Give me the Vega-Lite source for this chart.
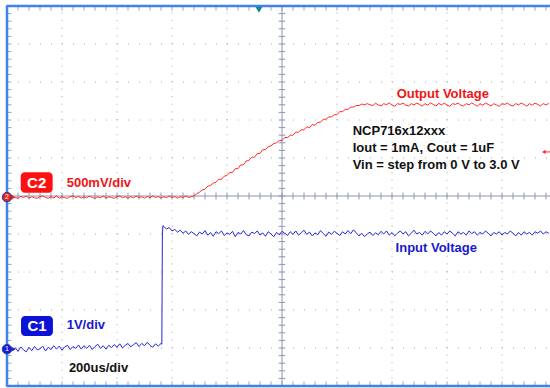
{
"$schema": "https://vega.github.io/schema/vega-lite/v6.json",
"width": 543, "height": 380,
"padding": {"left": 7, "top": 6, "right": 0, "bottom": 2},
"autosize": {"type": "none"},
"background": "white",
"config": {"view": {"stroke": null}, "text": {"font": "Liberation Sans", "fontWeight": "bold", "fontSize": 13}},
"datasets": {
"gx": [{"t":200},{"t":400},{"t":600},{"t":800},{"t":1200},{"t":1400},{"t":1600},{"t":1800}],
"gy": [{"d":1},{"d":2},{"d":3},{"d":4},{"d":6},{"d":7},{"d":8},{"d":9}],
"tx": [{"t":0},{"t":40},{"t":80},{"t":120},{"t":160},{"t":200},{"t":240},{"t":280},{"t":320},{"t":360},{"t":400},{"t":440},{"t":480},{"t":520},{"t":560},{"t":600},{"t":640},{"t":680},{"t":720},{"t":760},{"t":800},{"t":840},{"t":880},{"t":920},{"t":960},{"t":1000},{"t":1040},{"t":1080},{"t":1120},{"t":1160},{"t":1200},{"t":1240},{"t":1280},{"t":1320},{"t":1360},{"t":1400},{"t":1440},{"t":1480},{"t":1520},{"t":1560},{"t":1600},{"t":1640},{"t":1680},{"t":1720},{"t":1760},{"t":1800},{"t":1840},{"t":1880},{"t":1920},{"t":1960}],
"ty": [{"d":0},{"d":0.2},{"d":0.4},{"d":0.6},{"d":0.8},{"d":1},{"d":1.2},{"d":1.4},{"d":1.6},{"d":1.8},{"d":2},{"d":2.2},{"d":2.4},{"d":2.6},{"d":2.8},{"d":3},{"d":3.2},{"d":3.4},{"d":3.6},{"d":3.8},{"d":4},{"d":4.2},{"d":4.4},{"d":4.6},{"d":4.8},{"d":5},{"d":5.2},{"d":5.4},{"d":5.6},{"d":5.8},{"d":6},{"d":6.2},{"d":6.4},{"d":6.6},{"d":6.8},{"d":7},{"d":7.2},{"d":7.4},{"d":7.6},{"d":7.8},{"d":8},{"d":8.2},{"d":8.4},{"d":8.6},{"d":8.8},{"d":9},{"d":9.2},{"d":9.4},{"d":9.6},{"d":9.8},{"d":10}],
"c2": [{"t":0,"v":-0.01},{"t":10,"v":-0.025},{"t":20,"v":0.0},{"t":30,"v":-0.02},{"t":40,"v":-0.03},{"t":50,"v":-0.005},{"t":60,"v":-0.02},{"t":70,"v":0.0},{"t":80,"v":-0.028},{"t":90,"v":-0.01},{"t":100,"v":-0.022},{"t":110,"v":-0.03},{"t":120,"v":-0.008},{"t":130,"v":0.002},{"t":140,"v":-0.02},{"t":150,"v":-0.03},{"t":160,"v":-0.01},{"t":170,"v":-0.024},{"t":180,"v":0.0},{"t":190,"v":-0.028},{"t":200,"v":-0.012},{"t":210,"v":-0.022},{"t":220,"v":-0.03},{"t":230,"v":-0.008},{"t":240,"v":0.002},{"t":250,"v":-0.02},{"t":260,"v":-0.006},{"t":270,"v":-0.028},{"t":280,"v":-0.012},{"t":290,"v":-0.022},{"t":300,"v":0.0},{"t":310,"v":-0.02},{"t":320,"v":-0.03},{"t":330,"v":-0.01},{"t":340,"v":-0.024},{"t":350,"v":-0.002},{"t":360,"v":-0.028},{"t":370,"v":-0.01},{"t":380,"v":-0.02},{"t":390,"v":-0.03},{"t":400,"v":-0.008},{"t":410,"v":0.002},{"t":420,"v":-0.022},{"t":430,"v":-0.01},{"t":440,"v":-0.03},{"t":450,"v":-0.008},{"t":460,"v":-0.022},{"t":470,"v":0.0},{"t":480,"v":-0.02},{"t":490,"v":-0.01},{"t":500,"v":-0.03},{"t":510,"v":-0.006},{"t":520,"v":-0.022},{"t":530,"v":0.002},{"t":540,"v":-0.02},{"t":550,"v":-0.008},{"t":560,"v":-0.028},{"t":570,"v":-0.01},{"t":580,"v":-0.022},{"t":590,"v":0.0},{"t":600,"v":-0.02},{"t":610,"v":-0.008},{"t":620,"v":-0.028},{"t":630,"v":-0.01},{"t":640,"v":-0.02},{"t":650,"v":0.0},{"t":660,"v":-0.02},{"t":670,"v":-0.008},
{"t":680,"v":0.0},{"t":690,"v":0.03},{"t":700,"v":0.05},{"t":710,"v":0.08},{"t":720,"v":0.09},{"t":730,"v":0.13},{"t":740,"v":0.14},{"t":750,"v":0.17},{"t":760,"v":0.18},{"t":770,"v":0.22},{"t":780,"v":0.22},{"t":790,"v":0.26},{"t":800,"v":0.27},{"t":810,"v":0.31},{"t":820,"v":0.31},{"t":830,"v":0.36},{"t":840,"v":0.36},{"t":850,"v":0.41},{"t":860,"v":0.41},{"t":870,"v":0.46},{"t":880,"v":0.47},{"t":890,"v":0.51},{"t":900,"v":0.51},{"t":910,"v":0.56},{"t":920,"v":0.56},{"t":930,"v":0.61},{"t":940,"v":0.61},{"t":950,"v":0.65},{"t":960,"v":0.66},{"t":970,"v":0.69},{"t":980,"v":0.7},{"t":990,"v":0.73},{"t":1000,"v":0.73},{"t":1010,"v":0.77},{"t":1020,"v":0.77},{"t":1030,"v":0.8},{"t":1040,"v":0.8},{"t":1050,"v":0.84},{"t":1060,"v":0.84},{"t":1070,"v":0.87},{"t":1080,"v":0.87},{"t":1090,"v":0.91},{"t":1100,"v":0.9},{"t":1110,"v":0.94},{"t":1120,"v":0.93},{"t":1130,"v":0.97},{"t":1140,"v":0.97},{"t":1150,"v":1.01},{"t":1160,"v":1.01},{"t":1170,"v":1.04},{"t":1180,"v":1.04},{"t":1190,"v":1.07},{"t":1200,"v":1.07},{"t":1210,"v":1.11},{"t":1220,"v":1.11},{"t":1230,"v":1.14},{"t":1240,"v":1.14},{"t":1250,"v":1.17},{"t":1260,"v":1.17},{"t":1270,"v":1.19},{"t":1280,"v":1.19},{"t":1290,"v":1.21},{"t":1300,"v":1.2},{"t":1310,"v":1.215},{"t":1320,"v":1.2},
{"t":1330,"v":1.19},{"t":1340,"v":1.22},{"t":1350,"v":1.2},{"t":1360,"v":1.185},{"t":1370,"v":1.215},{"t":1380,"v":1.2},{"t":1390,"v":1.225},{"t":1400,"v":1.195},{"t":1410,"v":1.18},{"t":1420,"v":1.215},{"t":1430,"v":1.205},{"t":1440,"v":1.222},{"t":1450,"v":1.195},{"t":1460,"v":1.185},{"t":1470,"v":1.215},{"t":1480,"v":1.198},{"t":1490,"v":1.222},{"t":1500,"v":1.205},{"t":1510,"v":1.182},{"t":1520,"v":1.215},{"t":1530,"v":1.195},{"t":1540,"v":1.225},{"t":1550,"v":1.205},{"t":1560,"v":1.185},{"t":1570,"v":1.218},{"t":1580,"v":1.198},{"t":1590,"v":1.222},{"t":1600,"v":1.195},{"t":1610,"v":1.18},{"t":1620,"v":1.215},{"t":1630,"v":1.205},{"t":1640,"v":1.222},{"t":1650,"v":1.195},{"t":1660,"v":1.185},{"t":1670,"v":1.215},{"t":1680,"v":1.2},{"t":1690,"v":1.225},{"t":1700,"v":1.205},{"t":1710,"v":1.182},{"t":1720,"v":1.215},{"t":1730,"v":1.195},{"t":1740,"v":1.222},{"t":1750,"v":1.205},{"t":1760,"v":1.185},{"t":1770,"v":1.215},{"t":1780,"v":1.198},{"t":1790,"v":1.18},{"t":1800,"v":1.215},{"t":1810,"v":1.205},{"t":1820,"v":1.222},{"t":1830,"v":1.195},{"t":1840,"v":1.185},{"t":1850,"v":1.215},{"t":1860,"v":1.2},{"t":1870,"v":1.222},{"t":1880,"v":1.205},{"t":1890,"v":1.182},{"t":1900,"v":1.215},{"t":1910,"v":1.195},{"t":1920,"v":1.222},{"t":1930,"v":1.205},{"t":1940,"v":1.185},{"t":1950,"v":1.215},{"t":1960,"v":1.198},{"t":1970,"v":1.218}],
"c1": [{"t":0,"v":-0.03},{"t":10,"v":0.04},{"t":20,"v":-0.07},{"t":30,"v":0.01},{"t":40,"v":-0.09},{"t":50,"v":0.03},{"t":60,"v":-0.05},{"t":70,"v":-0.1},{"t":80,"v":0.02},{"t":90,"v":-0.07},{"t":100,"v":0.04},{"t":110,"v":-0.05},{"t":120,"v":-0.02},{"t":130,"v":0.05},{"t":140,"v":-0.08},{"t":150,"v":0.02},{"t":160,"v":-0.04},{"t":170,"v":0.06},{"t":180,"v":-0.03},{"t":190,"v":0.05},{"t":200,"v":-0.06},{"t":210,"v":0.03},{"t":220,"v":0.07},{"t":230,"v":-0.04},{"t":240,"v":0.04},{"t":250,"v":-0.01},{"t":260,"v":0.08},{"t":270,"v":-0.03},{"t":280,"v":0.06},{"t":290,"v":-0.01},{"t":300,"v":0.07},{"t":310,"v":-0.04},{"t":320,"v":0.04},{"t":330,"v":0.1},{"t":340,"v":-0.01},{"t":350,"v":0.06},{"t":360,"v":-0.03},{"t":370,"v":0.07},{"t":380,"v":0.01},{"t":390,"v":0.09},{"t":400,"v":0.02},{"t":410,"v":0.11},{"t":420,"v":0.0},{"t":430,"v":0.07},{"t":440,"v":0.12},{"t":450,"v":0.03},{"t":460,"v":0.09},{"t":470,"v":0.14},{"t":480,"v":0.04},{"t":490,"v":0.12},{"t":500,"v":0.06},{"t":510,"v":0.15},{"t":520,"v":0.07},{"t":530,"v":0.02},{"t":540,"v":0.11},{"t":550,"v":0.05},{"t":560,"v":0.12},{"t":563,"v":0.1},{"t":565,"v":3.0},{"t":567,"v":3.22},
{"t":570,"v":3.2},{"t":580,"v":3.13},{"t":590,"v":3.17},{"t":600,"v":3.08},{"t":610,"v":3.12},{"t":620,"v":3.05},{"t":630,"v":3.1},{"t":640,"v":3.02},{"t":650,"v":3.08},{"t":660,"v":2.99},{"t":670,"v":3.06},{"t":680,"v":3.01},{"t":690,"v":2.95},{"t":700,"v":3.05},{"t":710,"v":3.0},{"t":720,"v":3.09},{"t":730,"v":2.97},{"t":740,"v":3.04},{"t":750,"v":2.94},{"t":760,"v":3.06},{"t":770,"v":3.01},{"t":780,"v":3.08},{"t":790,"v":2.96},{"t":800,"v":3.03},{"t":810,"v":2.99},{"t":820,"v":3.07},{"t":830,"v":2.93},{"t":840,"v":3.04},{"t":850,"v":3.0},{"t":860,"v":3.09},{"t":870,"v":2.98},{"t":880,"v":2.95},{"t":890,"v":3.05},{"t":900,"v":3.01},{"t":910,"v":3.08},{"t":920,"v":2.97},{"t":930,"v":3.03},{"t":940,"v":2.94},{"t":950,"v":3.06},{"t":960,"v":3.0},{"t":970,"v":2.93},{"t":980,"v":3.04},{"t":990,"v":2.98},{"t":1000,"v":3.07},{"t":1010,"v":3.02},{"t":1020,"v":2.96},{"t":1030,"v":3.06},{"t":1040,"v":2.99},{"t":1050,"v":3.08},{"t":1060,"v":2.97},{"t":1070,"v":3.03},{"t":1080,"v":3.1},{"t":1090,"v":2.99},{"t":1100,"v":3.05},{"t":1110,"v":2.95},{"t":1120,"v":3.03},{"t":1130,"v":2.98},{"t":1140,"v":3.09},{"t":1150,"v":3.01},{"t":1160,"v":2.94},{"t":1170,"v":3.05},{"t":1180,"v":2.99},{"t":1190,"v":3.07},{"t":1200,"v":3.02},{"t":1210,"v":2.96},{"t":1220,"v":3.06},{"t":1230,"v":3.0},{"t":1240,"v":3.09},{"t":1250,"v":3.01},{"t":1260,"v":3.11},{"t":1270,"v":3.03},{"t":1280,"v":2.95},{"t":1290,"v":3.02},{"t":1300,"v":2.93},{"t":1310,"v":3.0},{"t":1320,"v":3.05},{"t":1330,"v":2.96},{"t":1340,"v":3.03},{"t":1350,"v":2.98},{"t":1360,"v":3.07},{"t":1370,"v":3.0},{"t":1380,"v":3.08},{"t":1390,"v":2.97},{"t":1400,"v":3.04},{"t":1410,"v":2.95},{"t":1420,"v":3.02},{"t":1430,"v":3.08},{"t":1440,"v":3.0},{"t":1450,"v":3.06},{"t":1460,"v":2.95},{"t":1470,"v":3.02},{"t":1480,"v":3.1},{"t":1490,"v":3.0},{"t":1500,"v":3.04},{"t":1510,"v":2.97},{"t":1520,"v":3.07},{"t":1530,"v":3.0},{"t":1540,"v":3.08},{"t":1550,"v":3.02},{"t":1560,"v":2.95},{"t":1570,"v":3.04},{"t":1580,"v":2.97},{"t":1590,"v":3.06},{"t":1600,"v":3.0},{"t":1610,"v":3.08},{"t":1620,"v":3.02},{"t":1630,"v":2.95},{"t":1640,"v":3.06},{"t":1650,"v":3.0},{"t":1660,"v":3.04},{"t":1670,"v":2.97},{"t":1680,"v":3.08},{"t":1690,"v":3.01},{"t":1700,"v":3.06},{"t":1710,"v":2.97},{"t":1720,"v":3.04},{"t":1730,"v":3.0},{"t":1740,"v":3.08},{"t":1750,"v":3.02},{"t":1760,"v":2.95},{"t":1770,"v":3.04},{"t":1780,"v":3.0},{"t":1790,"v":3.06},{"t":1800,"v":2.97},{"t":1810,"v":3.04},{"t":1820,"v":3.0},{"t":1830,"v":3.08},{"t":1840,"v":3.02},{"t":1850,"v":2.95},{"t":1860,"v":3.04},{"t":1870,"v":2.97},{"t":1880,"v":3.06},{"t":1890,"v":3.0},{"t":1900,"v":3.04},{"t":1910,"v":2.97},{"t":1920,"v":3.06},{"t":1930,"v":3.02},{"t":1940,"v":3.08},{"t":1950,"v":3.0},{"t":1960,"v":3.06},{"t":1970,"v":3.02}]
},
"resolve": {"scale": {"y": "independent"}},
"layer": [
{
"layer": [
{"data": {"name": "gx"}, "mark": {"type": "rule", "color": "#a8a8a8", "strokeWidth": 1, "strokeDash": [1, 6.6]},
 "encoding": {"x": {"field": "t", "type": "quantitative", "scale": {"domain": [0, 1974.5]}, "axis": null},
  "y": {"datum": 0, "type": "quantitative", "scale": {"domain": [0, 10]}, "axis": null}, "y2": {"datum": 10}}},
{"data": {"name": "gy"}, "mark": {"type": "rule", "color": "#a8a8a8", "strokeWidth": 1, "strokeDash": [1, 10]},
 "encoding": {"y": {"field": "d", "type": "quantitative", "scale": {"domain": [0, 10]}, "axis": null},
  "x": {"datum": 0, "type": "quantitative", "scale": {"domain": [0, 1974.5]}, "axis": null}, "x2": {"datum": 1974.5}}},
{"data": {"values": [{}]}, "mark": {"type": "rule", "color": "#8c95b5", "strokeWidth": 1},
 "encoding": {"x": {"datum": 1000, "type": "quantitative", "scale": {"domain": [0, 1974.5]}, "axis": null},
  "y": {"datum": 0, "type": "quantitative", "scale": {"domain": [0, 10]}, "axis": null}, "y2": {"datum": 10}}},
{"data": {"values": [{}]}, "mark": {"type": "rule", "color": "#8c95b5", "strokeWidth": 1},
 "encoding": {"y": {"datum": 5, "type": "quantitative", "scale": {"domain": [0, 10]}, "axis": null},
  "x": {"datum": 0, "type": "quantitative", "scale": {"domain": [0, 1974.5]}, "axis": null}, "x2": {"datum": 1974.5}}},
{"data": {"name": "tx"}, "mark": {"type": "rule", "color": "#8c95b5", "strokeWidth": 1},
 "encoding": {"x": {"field": "t", "type": "quantitative", "scale": {"domain": [0, 1974.5]}, "axis": null},
  "y": {"datum": 4.91, "type": "quantitative", "scale": {"domain": [0, 10]}, "axis": null}, "y2": {"datum": 5.09}}},
{"data": {"name": "tx"}, "mark": {"type": "rule", "color": "#9aa2bf", "strokeWidth": 1},
 "encoding": {"x": {"field": "t", "type": "quantitative", "scale": {"domain": [0, 1974.5]}, "axis": null},
  "y": {"datum": 0, "type": "quantitative", "scale": {"domain": [0, 10]}, "axis": null}, "y2": {"datum": 0.12}}},
{"data": {"name": "tx"}, "mark": {"type": "rule", "color": "#9aa2bf", "strokeWidth": 1},
 "encoding": {"x": {"field": "t", "type": "quantitative", "scale": {"domain": [0, 1974.5]}, "axis": null},
  "y": {"datum": 10, "type": "quantitative", "scale": {"domain": [0, 10]}, "axis": null}, "y2": {"datum": 9.88}}},
{"data": {"name": "ty"}, "mark": {"type": "rule", "color": "#8c95b5", "strokeWidth": 1},
 "encoding": {"y": {"field": "d", "type": "quantitative", "scale": {"domain": [0, 10]}, "axis": null},
  "x": {"datum": 988, "type": "quantitative", "scale": {"domain": [0, 1974.5]}, "axis": null}, "x2": {"datum": 1012}}},
{"data": {"name": "ty"}, "mark": {"type": "rule", "color": "#9aa2bf", "strokeWidth": 1},
 "encoding": {"y": {"field": "d", "type": "quantitative", "scale": {"domain": [0, 10]}, "axis": null},
  "x": {"datum": 0, "type": "quantitative", "scale": {"domain": [0, 1974.5]}, "axis": null}, "x2": {"datum": 16}}}
]
},
{"data": {"name": "c2"}, "mark": {"type": "line", "color": "#ff2a2a", "strokeWidth": 1},
 "encoding": {"x": {"field": "t", "type": "quantitative", "scale": {"domain": [0, 1974.5]}, "axis": null},
  "y": {"field": "v", "type": "quantitative", "scale": {"domain": [-2.5, 2.5]}, "axis": null}}},
{"data": {"name": "c1"}, "mark": {"type": "line", "color": "#2424e0", "strokeWidth": 1},
 "encoding": {"x": {"field": "t", "type": "quantitative", "scale": {"domain": [0, 1974.5]}, "axis": null},
  "y": {"field": "v", "type": "quantitative", "scale": {"domain": [-1, 9]}, "axis": null}}},
{
"data": {"values": [{}]},
"layer": [
{"mark": {"type": "rule", "color": "#3c84ec", "strokeWidth": 2.5},
 "encoding": {"x": {"datum": 0, "type": "quantitative", "scale": {"domain": [0, 1974.5]}, "axis": null},
  "y": {"datum": -0.02, "type": "quantitative", "scale": {"domain": [0, 10]}, "axis": null}, "y2": {"datum": 10.02}}},
{"mark": {"type": "rule", "color": "#3c84ec", "strokeWidth": 2.5},
 "encoding": {"y": {"datum": 10, "type": "quantitative", "scale": {"domain": [0, 10]}, "axis": null},
  "x": {"datum": 0, "type": "quantitative", "scale": {"domain": [0, 1974.5]}, "axis": null}, "x2": {"datum": 1974.5}}},
{"mark": {"type": "rule", "color": "#3c84ec", "strokeWidth": 2.5},
 "encoding": {"y": {"datum": 0, "type": "quantitative", "scale": {"domain": [0, 10]}, "axis": null},
  "x": {"datum": 0, "type": "quantitative", "scale": {"domain": [0, 1974.5]}, "axis": null}, "x2": {"datum": 1974.5}}},
{"mark": {"type": "point", "shape": "triangle-down", "filled": true, "color": "#0f8a8a", "size": 45, "opacity": 1},
 "encoding": {"x": {"datum": 916, "type": "quantitative", "scale": {"domain": [0, 1974.5]}, "axis": null},
  "y": {"datum": 9.9, "type": "quantitative", "scale": {"domain": [0, 10]}, "axis": null}}},
{"mark": {"type": "point", "shape": "triangle-left", "filled": true, "color": "#ff2a2a", "size": 18, "opacity": 1},
 "encoding": {"x": {"datum": 1952, "type": "quantitative", "scale": {"domain": [0, 1974.5]}, "axis": null},
  "y": {"datum": 6.16, "type": "quantitative", "scale": {"domain": [0, 10]}, "axis": null}}},
{"mark": {"type": "rule", "color": "#ff2a2a", "strokeWidth": 1},
 "encoding": {"y": {"datum": 6.16, "type": "quantitative", "scale": {"domain": [0, 10]}, "axis": null},
  "x": {"datum": 1952, "type": "quantitative", "scale": {"domain": [0, 1974.5]}, "axis": null}, "x2": {"datum": 1974.5}}},
{"mark": {"type": "point", "shape": "triangle-right", "filled": true, "color": "#ff2a2a", "size": 22, "opacity": 1},
 "encoding": {"x": {"datum": 24, "type": "quantitative", "scale": {"domain": [0, 1974.5]}, "axis": null},
  "y": {"datum": 4.97, "type": "quantitative", "scale": {"domain": [0, 10]}, "axis": null}}},
{"mark": {"type": "point", "shape": "triangle-right", "filled": true, "color": "#2424e0", "size": 22, "opacity": 1},
 "encoding": {"x": {"datum": 24, "type": "quantitative", "scale": {"domain": [0, 1974.5]}, "axis": null},
  "y": {"datum": 0.97, "type": "quantitative", "scale": {"domain": [0, 10]}, "axis": null}}},
{"mark": {"type": "point", "shape": "circle", "filled": true, "color": "#e61e1e", "size": 90, "opacity": 1, "stroke": "#1f3f9f", "strokeWidth": 1},
 "encoding": {"x": {"datum": 0, "type": "quantitative", "scale": {"domain": [0, 1974.5]}, "axis": null},
  "y": {"datum": 4.97, "type": "quantitative", "scale": {"domain": [0, 10]}, "axis": null}}},
{"mark": {"type": "point", "shape": "circle", "filled": true, "color": "#1a1ad8", "size": 90, "opacity": 1, "stroke": "#1f3f9f", "strokeWidth": 1},
 "encoding": {"x": {"datum": 0, "type": "quantitative", "scale": {"domain": [0, 1974.5]}, "axis": null},
  "y": {"datum": 0.97, "type": "quantitative", "scale": {"domain": [0, 10]}, "axis": null}}},
{"mark": {"type": "text", "text": "2", "color": "white", "fontSize": 7, "fontWeight": "normal", "align": "center", "baseline": "middle"},
 "encoding": {"x": {"datum": 0, "type": "quantitative", "scale": {"domain": [0, 1974.5]}, "axis": null},
  "y": {"datum": 4.97, "type": "quantitative", "scale": {"domain": [0, 10]}, "axis": null}}},
{"mark": {"type": "text", "text": "1", "color": "white", "fontSize": 7, "fontWeight": "normal", "align": "center", "baseline": "middle"},
 "encoding": {"x": {"datum": 0, "type": "quantitative", "scale": {"domain": [0, 1974.5]}, "axis": null},
  "y": {"datum": 0.97, "type": "quantitative", "scale": {"domain": [0, 10]}, "axis": null}}},
{"mark": {"type": "rect", "color": "#ff1010", "cornerRadius": 4},
 "encoding": {"x": {"datum": 50, "type": "quantitative", "scale": {"domain": [0, 1974.5]}, "axis": null}, "x2": {"datum": 166},
  "y": {"datum": 5.087, "type": "quantitative", "scale": {"domain": [0, 10]}, "axis": null}, "y2": {"datum": 5.624}}},
{"mark": {"type": "rect", "color": "#0c12d6", "cornerRadius": 4},
 "encoding": {"x": {"datum": 51, "type": "quantitative", "scale": {"domain": [0, 1974.5]}, "axis": null}, "x2": {"datum": 167},
  "y": {"datum": 1.316, "type": "quantitative", "scale": {"domain": [0, 10]}, "axis": null}, "y2": {"datum": 1.842}}},
{"mark": {"type": "text", "text": "C2", "color": "white", "fontSize": 15, "align": "center", "baseline": "middle"},
 "encoding": {"x": {"datum": 108, "type": "quantitative", "scale": {"domain": [0, 1974.5]}, "axis": null},
  "y": {"datum": 5.355, "type": "quantitative", "scale": {"domain": [0, 10]}, "axis": null}}},
{"mark": {"type": "text", "text": "C1", "color": "white", "fontSize": 15, "align": "center", "baseline": "middle"},
 "encoding": {"x": {"datum": 109, "type": "quantitative", "scale": {"domain": [0, 1974.5]}, "axis": null},
  "y": {"datum": 1.58, "type": "quantitative", "scale": {"domain": [0, 10]}, "axis": null}}},
{"mark": {"type": "text", "text": "500mV/div", "color": "#f01414", "align": "left", "baseline": "alphabetic"},
 "encoding": {"x": {"datum": 217, "type": "quantitative", "scale": {"domain": [0, 1974.5]}, "axis": null},
  "y": {"datum": 5.245, "type": "quantitative", "scale": {"domain": [0, 10]}, "axis": null}}},
{"mark": {"type": "text", "text": "1V/div", "color": "#1818d0", "align": "left", "baseline": "alphabetic"},
 "encoding": {"x": {"datum": 217, "type": "quantitative", "scale": {"domain": [0, 1974.5]}, "axis": null},
  "y": {"datum": 1.492, "type": "quantitative", "scale": {"domain": [0, 10]}, "axis": null}}},
{"mark": {"type": "text", "text": "200us/div", "color": "#111111", "align": "left", "baseline": "alphabetic"},
 "encoding": {"x": {"datum": 225, "type": "quantitative", "scale": {"domain": [0, 1974.5]}, "axis": null},
  "y": {"datum": 0.376, "type": "quantitative", "scale": {"domain": [0, 10]}, "axis": null}}},
{"mark": {"type": "text", "text": "Output Voltage", "color": "#f01414", "align": "left", "baseline": "alphabetic"},
 "encoding": {"x": {"datum": 1417, "type": "quantitative", "scale": {"domain": [0, 1974.5]}, "axis": null},
  "y": {"datum": 7.571, "type": "quantitative", "scale": {"domain": [0, 10]}, "axis": null}}},
{"mark": {"type": "text", "text": "NCP716x12xxx", "color": "#111111", "align": "left", "baseline": "alphabetic"},
 "encoding": {"x": {"datum": 1257, "type": "quantitative", "scale": {"domain": [0, 1974.5]}, "axis": null},
  "y": {"datum": 6.605, "type": "quantitative", "scale": {"domain": [0, 10]}, "axis": null}}},
{"mark": {"type": "text", "text": "Iout = 1mA, Cout = 1uF", "color": "#111111", "align": "left", "baseline": "alphabetic"},
 "encoding": {"x": {"datum": 1257, "type": "quantitative", "scale": {"domain": [0, 1974.5]}, "axis": null},
  "y": {"datum": 6.166, "type": "quantitative", "scale": {"domain": [0, 10]}, "axis": null}}},
{"mark": {"type": "text", "text": "Vin = step from 0 V to 3.0 V", "color": "#111111", "align": "left", "baseline": "alphabetic"},
 "encoding": {"x": {"datum": 1257, "type": "quantitative", "scale": {"domain": [0, 1974.5]}, "axis": null},
  "y": {"datum": 5.703, "type": "quantitative", "scale": {"domain": [0, 10]}, "axis": null}}},
{"mark": {"type": "text", "text": "Input Voltage", "color": "#1818d0", "align": "left", "baseline": "alphabetic"},
 "encoding": {"x": {"datum": 1413, "type": "quantitative", "scale": {"domain": [0, 1974.5]}, "axis": null},
  "y": {"datum": 3.534, "type": "quantitative", "scale": {"domain": [0, 10]}, "axis": null}}}
]
}
]
}
